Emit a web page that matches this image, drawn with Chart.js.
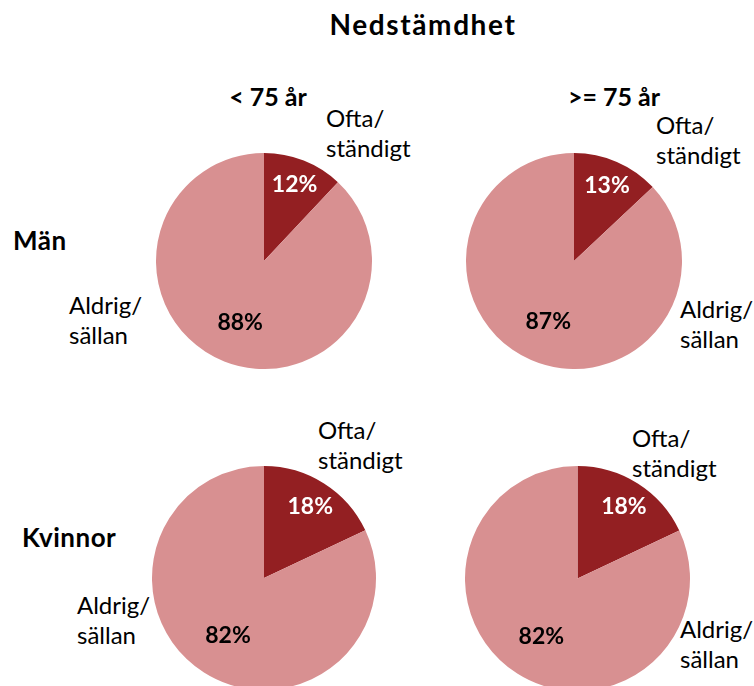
<!DOCTYPE html>
<html lang="sv">
<head>
<meta charset="UTF-8">
<title>Nedstämdhet</title>
<script src="https://cdn.jsdelivr.net/npm/chart.js"></script>
<style>
    html, body { margin: 0; padding: 0; width: 754px; height: 686px; overflow: hidden; background: #fff; }
    body { position: relative; font-family: Lato, "Noto Sans", sans-serif; color: #000; }
    .txt { position: absolute; white-space: nowrap; line-height: 30px; font-size: 24px; }
    .b { font-weight: bold; }
    .c { transform: translateX(-50%); }
    canvas { position: absolute; }
</style>
</head>
<body>
<div class="txt b c" style="left:423px; top:8px; font-size:28px; line-height:32px; letter-spacing:1.6px;">Nedstämdhet</div>

<div id="col0" class="txt b c" style="left:268px; top:81px; font-size:25px;"></div>
<div id="col1" class="txt b c" style="left:614px; top:81px; font-size:25px;"></div>
<div id="row0" class="txt b" style="left:13px; top:225px; font-size:26px; letter-spacing:0.5px;"></div>
<div id="row1" class="txt b" style="left:22px; top:522px; font-size:26px; letter-spacing:0.5px;"></div>

<div class="txt" style="left:326px; top:103px;">Ofta/<br>ständigt</div>
<div class="txt" style="left:69px; top:290px;">Aldrig/<br>sällan</div>
<div class="txt" style="left:656px; top:110px;">Ofta/<br>ständigt</div>
<div class="txt" style="left:680px; top:294px;">Aldrig/<br>sällan</div>
<div class="txt" style="left:318px; top:415px;">Ofta/<br>ständigt</div>
<div class="txt" style="left:77px; top:590px;">Aldrig/<br>sällan</div>
<div class="txt" style="left:632px; top:423px;">Ofta/<br>ständigt</div>
<div class="txt" style="left:680px; top:614px;">Aldrig/<br>sällan</div>

<canvas id="pie0"></canvas>
<canvas id="pie1"></canvas>
<canvas id="pie2"></canvas>
<canvas id="pie3"></canvas>

<script>
// data
const answers = ["Ofta/ständigt", "Aldrig/sällan"];
const ageGroups = ["< 75 år", ">= 75 år"];
const sexes = ["Män", "Kvinnor"];
const manUnder75 = [12, 88];
const manOver75 = [13, 87];
const womanUnder75 = [18, 82];
const womanOver75 = [18, 82];

const colors = ["#931F22", "#D89091"];
const labelColors = ["#ffffff", "#000000"];

document.getElementById("col0").textContent = ageGroups[0];
document.getElementById("col1").textContent = ageGroups[1];
document.getElementById("row0").textContent = sexes[0];
document.getElementById("row1").textContent = sexes[1];

// where each pie sits on the page: center x, center y, radius
const pies = [
    { id: "pie0", data: manUnder75, cx: 263.5, cy: 261, r: 108 },
    { id: "pie1", data: manOver75, cx: 573.5, cy: 260.5, r: 108 },
    { id: "pie2", data: womanUnder75, cx: 264, cy: 577.5, r: 112 },
    { id: "pie3", data: womanOver75, cx: 577.5, cy: 578, r: 112.5 }
];

// percent labels inside the slices
const pctLabels = {
    id: "pctLabels",
    afterDatasetsDraw(chart) {
        const ctx = chart.ctx;
        const arcs = chart.getDatasetMeta(0).data;
        ctx.save();
        ctx.font = "bold 23px Lato, 'Noto Sans', sans-serif";
        ctx.textAlign = "center";
        ctx.textBaseline = "middle";
        arcs.forEach((arc, i) => {
            const p = arc.getProps(["x", "y", "startAngle", "endAngle", "outerRadius"], true);
            const mid = (p.startAngle + p.endAngle) / 2;
            const f = i === 0 ? 0.77 : 0.6;
            const x = p.x + Math.cos(mid) * p.outerRadius * f;
            const y = p.y + Math.sin(mid) * p.outerRadius * f;
            ctx.fillStyle = labelColors[i];
            ctx.fillText(chart.data.datasets[0].data[i] + "%", x, y + 1);
        });
        ctx.restore();
    }
};

pies.forEach(p => {
    const cv = document.getElementById(p.id);
    const size = p.r * 2;
    cv.style.left = (p.cx - p.r) + "px";
    cv.style.top = (p.cy - p.r) + "px";
    cv.style.width = size + "px";
    cv.style.height = size + "px";
    cv.width = size;
    cv.height = size;

    new Chart(cv, {
        type: "pie",
        data: {
            labels: answers,
            datasets: [{
                data: p.data,
                backgroundColor: colors,
                borderWidth: 0
            }]
        },
        options: {
            responsive: false,
            animation: false,
            layout: { padding: 0 },
            plugins: { legend: { display: false }, tooltip: { enabled: false } }
        },
        plugins: [pctLabels]
    });
});
</script>
</body>
</html>
